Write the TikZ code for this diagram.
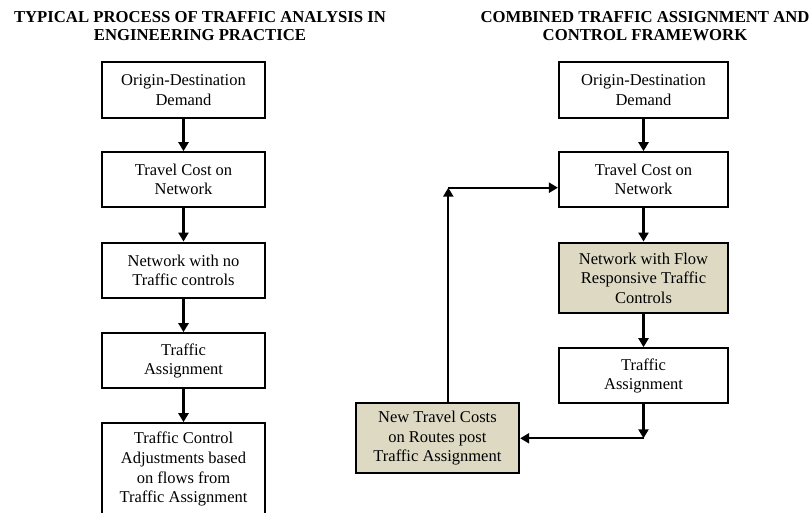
\documentclass[tikz,border=0pt]{standalone}
\usepackage{fontspec}
\setmainfont{Liberation Serif}
\usetikzlibrary{arrows.meta,calc}
\definecolor{tanfill}{HTML}{DDD9C3}
\begin{document}
\begin{tikzpicture}[x=1pt,y=-1pt,
  box/.style={draw=black, line width=2.2pt, fill=white, minimum width=163pt, align=center, inner sep=0pt, font=\fontsize{16.5}{19.6}\selectfont},
  rbox/.style={box, minimum width=169pt},
  shaded/.style={fill=tanfill},
  arr/.style={line width=2.2pt, -{Triangle[length=9pt,width=10pt]}},
  ttl/.style={align=center, inner sep=0pt, font=\fontsize{16.7}{18}\selectfont\bfseries}]
\useasboundingbox (0,0) rectangle (812,513);
\clip (0,0) rectangle (812,513);
% titles
\node[ttl] (T1) at (200,26) {TYPICAL PROCESS OF TRAFFIC ANALYSIS IN\\ENGINEERING PRACTICE};
\node[ttl] (T2) at (645,26) {COMBINED TRAFFIC ASSIGNMENT AND\\CONTROL FRAMEWORK};
% left column
\node[box, minimum height=55.4pt] (L1) at (183.5,90) {Origin-Destination\\Demand};
\node[box, minimum height=54.4pt] (L2) at (183.5,179.5) {Travel Cost on\\Network};
\node[box, minimum height=55.6pt] (L3) at (183.5,270.5) {Network with no\\Traffic controls};
\node[box, minimum height=55pt] (L4) at (183.5,360.8) {Traffic\\Assignment};
\node[box, minimum height=92pt] (L5) at (183.5,469.3) {Traffic Control\\Adjustments based\\on flows from\\Traffic Assignment};
\draw[arr] (L1) -- (L2);
\draw[arr] (L2) -- (L3);
\draw[arr] (L3) -- (L4);
\draw[arr] (L4) -- (L5);
% right column
\node[rbox, minimum height=55.4pt] (R1) at (643.5,90) {Origin-Destination\\Demand};
\node[rbox, minimum height=54.4pt] (R2) at (643.5,179.5) {Travel Cost on\\Network};
\node[rbox, shaded, minimum height=70.6pt] (R3) at (643.5,278) {Network with Flow\\Responsive Traffic\\Controls};
\node[rbox, minimum height=55pt] (R4) at (643.5,375.8) {Traffic\\Assignment};
\node[box, shaded, minimum width=163.3pt, minimum height=70pt] (N) at (437.4,438.3) {New Travel Costs\\on Routes post\\Traffic Assignment};
\coordinate (c1) at (643.5,438.3);
\coordinate (c2) at (448.3,187.7);
\draw[arr] (R1) -- (R2);
\draw[arr] (R2) -- (R3);
\draw[arr] (R3) -- (R4);
\draw[arr] (R4) -- (c1);
\draw[arr] (c1) -- (N);
\draw[arr] (N.north -| c2) -- (c2);
\draw[arr] (c2) -- (c2 -| R2.west);
\end{tikzpicture}
\end{document}
